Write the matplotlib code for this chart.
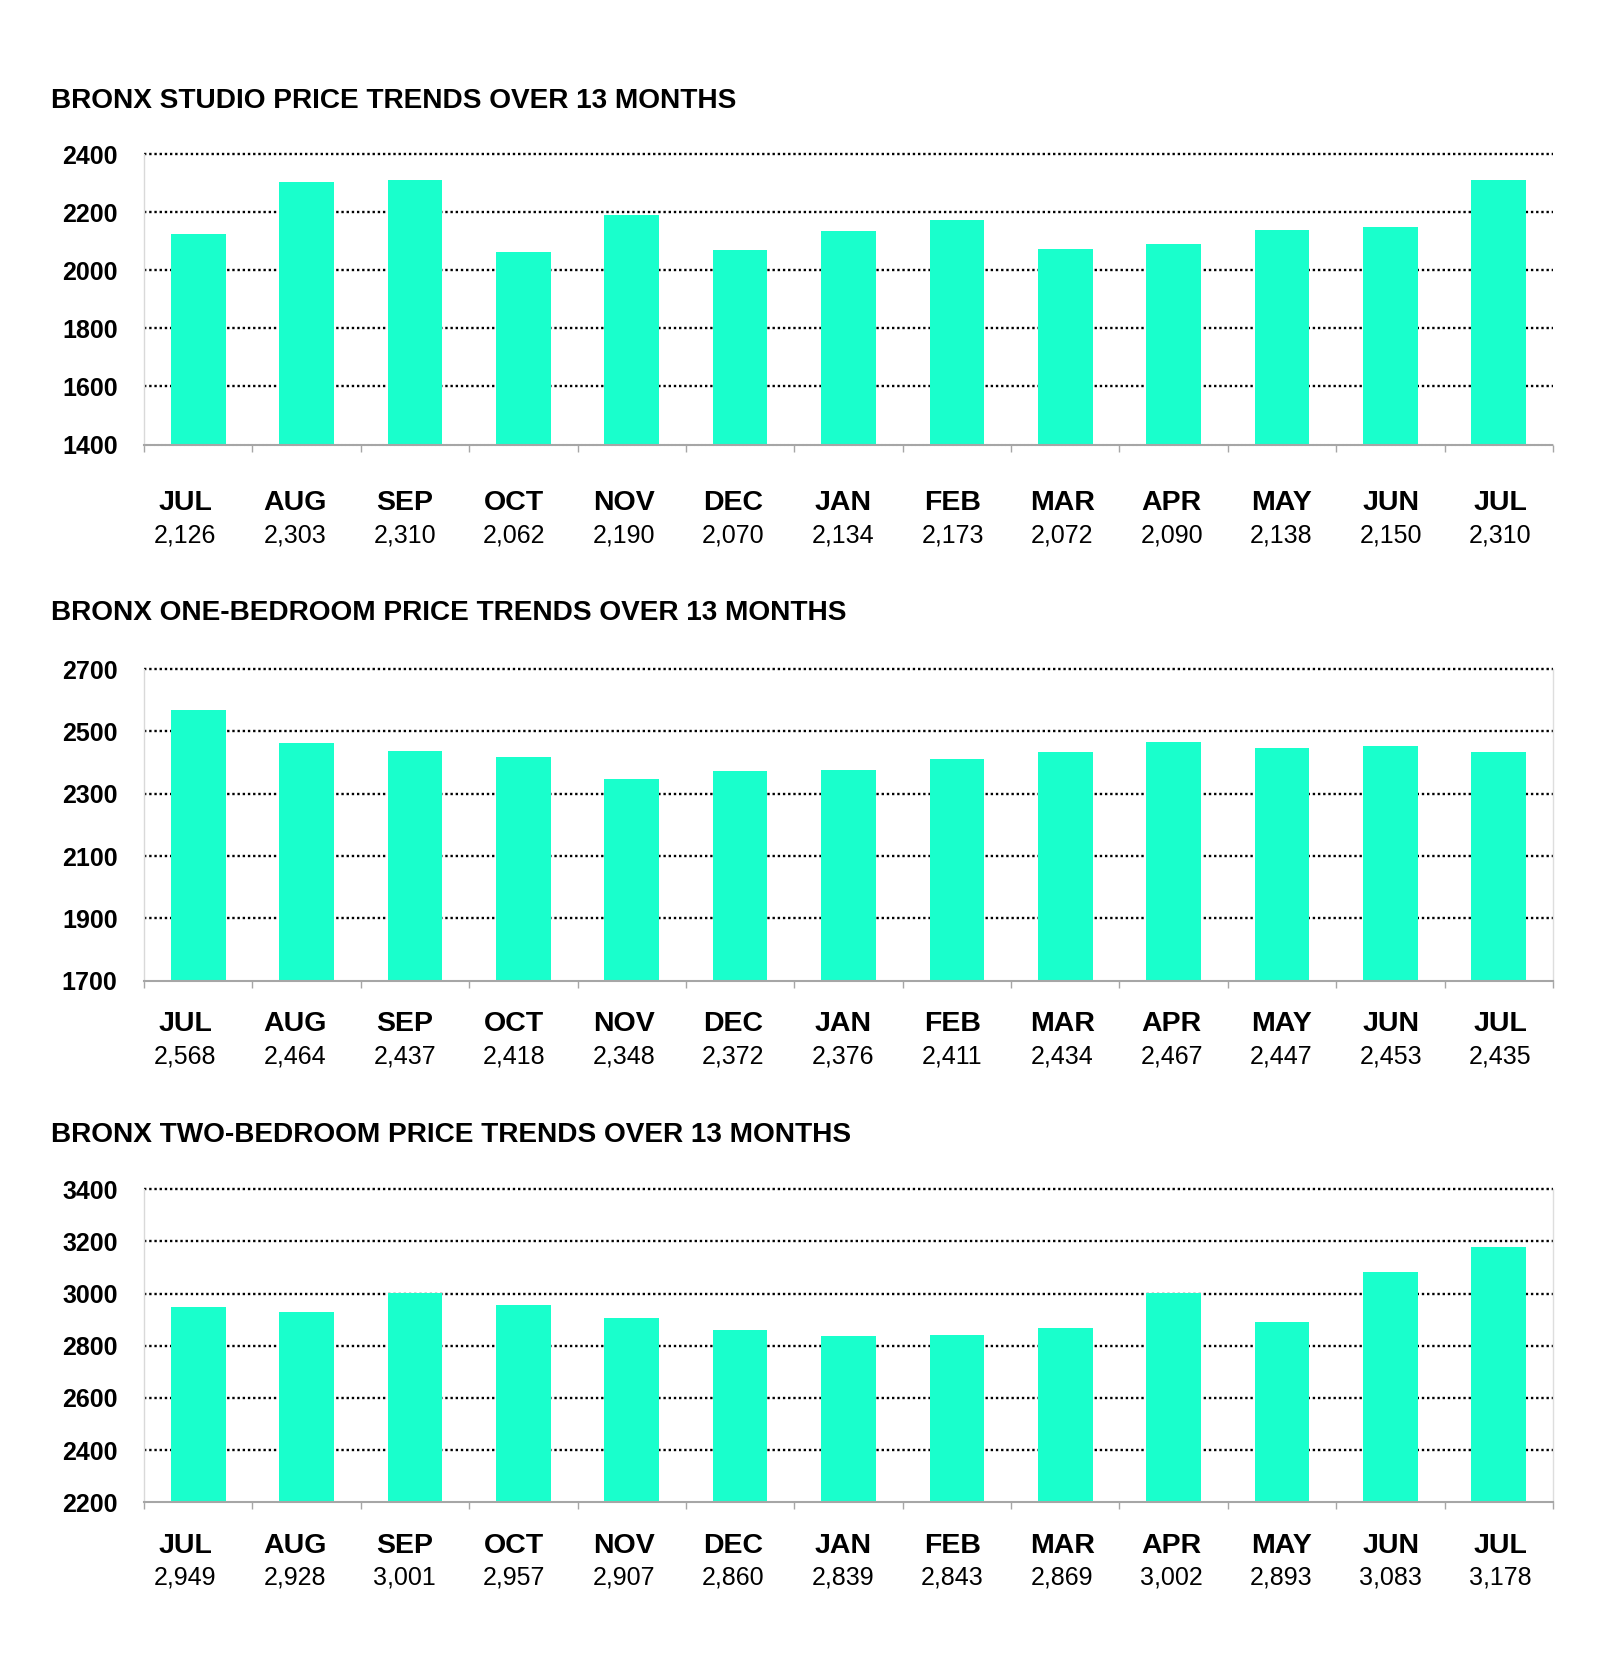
import matplotlib
matplotlib.use("Agg")
import matplotlib.pyplot as plt
import numpy as np

months = ["JUL", "AUG", "SEP", "OCT", "NOV", "DEC", "JAN", "FEB", "MAR", "APR", "MAY", "JUN", "JUL"]

studio = [2126, 2303, 2310, 2062, 2190, 2070, 2134, 2173, 2072, 2090, 2138, 2150, 2310]
one_bed = [2568, 2464, 2437, 2418, 2348, 2372, 2376, 2411, 2434, 2467, 2447, 2453, 2435]
two_bed = [2949, 2928, 3001, 2957, 2907, 2860, 2839, 2843, 2869, 3002, 2893, 3083, 3178]

titles = ["BRONX STUDIO PRICE TRENDS OVER 13 MONTHS",
          "BRONX ONE-BEDROOM PRICE TRENDS OVER 13 MONTHS",
          "BRONX TWO-BEDROOM PRICE TRENDS OVER 13 MONTHS"]
yticks_list = [list(range(1400, 2401, 200)),
               list(range(1700, 2701, 200)),
               list(range(2200, 3401, 200))]
series = [studio, one_bed, two_bed]

BAR = "#19FFCC"
FONT = "Liberation Sans"
W, H = 1600, 1662

fig = plt.figure(figsize=(W / 100, H / 100), dpi=100)

# pixel layout: (top, bottom, title_center, month_off, value_off)
layout = [
    (154, 444.5, 101.5, 59, 91.5),
    (669, 980.7, 613.5, 43.5, 75.5),
    (1189.3, 1502.3, 1134.5, 43.5, 75.5),
]
left_px, right_px = 144, 1553

for i, (vals, title, yt) in enumerate(zip(series, titles, yticks_list)):
    top, bot, tcy, moff, voff = layout[i]
    ax = fig.add_axes([left_px / W, 1 - bot / H, (right_px - left_px) / W, (bot - top) / H])
    x = np.arange(len(months))
    ax.bar(x, vals, width=0.505, color=BAR, zorder=2)
    ax.set_xlim(-0.5, len(months) - 0.5)
    ax.set_ylim(yt[0], yt[-1])
    ax.set_yticks(yt)
    ax.set_yticklabels([str(t) for t in yt], fontfamily=FONT, fontweight="bold", fontsize=18)
    ax.tick_params(axis="y", length=0, pad=19)
    ax.set_xticks(np.arange(-0.5, len(months), 1.0))
    ax.set_xticklabels([])
    ax.tick_params(axis="x", length=5, width=1, color="#a6a6a6", direction="out")
    ax.set_axisbelow(True)
    ax.yaxis.grid(True, color="black", linestyle=(0, (1, 1.2)), linewidth=1.7, zorder=1)
    for gl in ax.get_ygridlines():
        gl.set_clip_on(False)
    gls = ax.get_ygridlines()
    if len(gls):
        gls[0].set_visible(False)
    ax.spines["top"].set_visible(False)
    ax.spines["left"].set_color("#d9d9d9")
    ax.spines["left"].set_linewidth(1)
    if i == 0:
        ax.spines["right"].set_visible(False)
        ax.spines["bottom"].set_linestyle((0, (1, 0.8)))
    else:
        ax.spines["right"].set_color("#dedede")
        ax.spines["right"].set_linewidth(1)
    ax.spines["bottom"].set_color("#a6a6a6")
    ax.spines["bottom"].set_linewidth(1.5)
    ax.spines["bottom"].set_zorder(3)

    # category labels are laid out on their own evenly spaced grid (slightly wider than bars)
    label_x = np.linspace(-0.118, 12.015, len(months))
    for lx, m, v in zip(label_x, months, vals):
        ax.annotate(m, xy=(lx, 0), xycoords=("data", "axes fraction"),
                    xytext=(0, -moff * 0.72), textcoords="offset points",
                    ha="center", va="center", fontfamily=FONT, fontweight="bold",
                    fontsize=20.5, annotation_clip=False)
        ax.annotate(f"{v:,}", xy=(lx, 0), xycoords=("data", "axes fraction"),
                    xytext=(0, -voff * 0.72), textcoords="offset points",
                    ha="center", va="center", fontfamily=FONT,
                    fontsize=18, annotation_clip=False)

    fig.text(51 / W, 1 - tcy / H, title, ha="left", va="center",
             fontfamily=FONT, fontweight="bold", fontsize=20.2)

fig.savefig("out.png", dpi=100, facecolor="white")
